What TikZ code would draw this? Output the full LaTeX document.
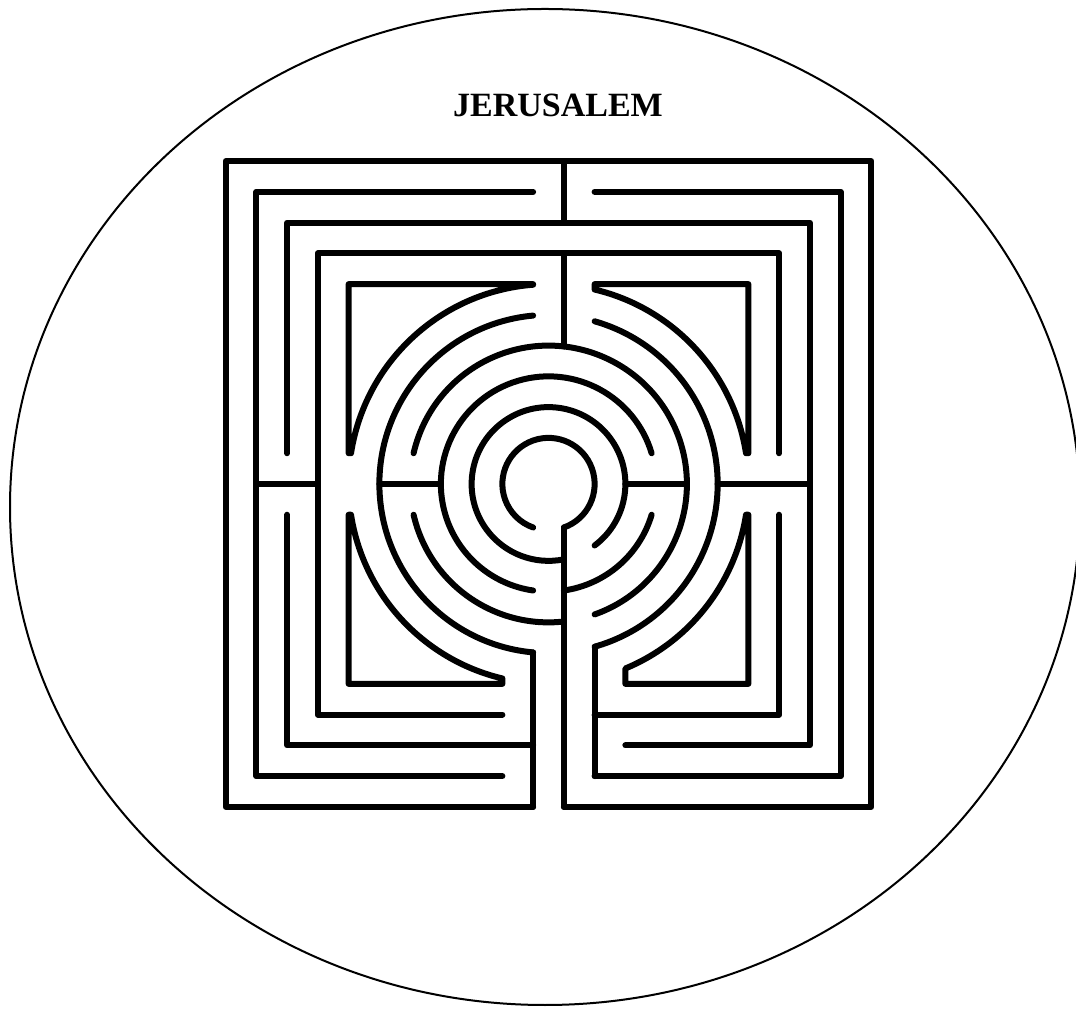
\documentclass[tikz,border=0pt]{standalone}
\usepackage{fontspec}
\setmainfont{Liberation Serif}
\begin{document}
\begin{tikzpicture}[x=1pt,y=1pt,
  wall/.style={line width=6pt, line cap=round, line join=round},
  rim/.style={line width=2pt}]
\useasboundingbox (0,0) rectangle (1076,1012);
\fill[white] (0,0) rectangle (1076,1012);
\draw[rim] (545,505) ellipse [x radius=535, y radius=498];
\node (title) at (558,907) {\bfseries\fontsize{34}{34}\selectfont JERUSALEM};
\begin{scope}[shift={(548.5,528)}, x=30.75pt, y=30.75pt, wall]
  % outer square
  \draw (-0.5,-10.5) -- (-10.5,-10.5) -- (-10.5,10.5) -- (10.5,10.5) -- (10.5,-10.5) -- (0.5,-10.5);
  \draw (0.5,10.5) -- (0.5,8.5);
  % level 9.5
  \draw (-0.5,9.5) -- (-9.5,9.5) -- (-9.5,-9.5) -- (-1.5,-9.5);
  \draw (1.5,9.5) -- (9.5,9.5) -- (9.5,-9.5) -- (1.5,-9.5);
  % level 8.5
  \draw (-8.5,1) -- (-8.5,8.5) -- (8.5,8.5) -- (8.5,-8.5) -- (2.5,-8.5);
  \draw (-8.5,-1) -- (-8.5,-8.5) -- (-0.5,-8.5);
  % level 7.5
  \draw (-1.5,-7.5) -- (-7.5,-7.5) -- (-7.5,7.5) -- (7.5,7.5) -- (7.5,1);
  \draw (7.5,-1) -- (7.5,-7.5) -- (1.5,-7.5);
  \draw (0.5,7.5) -- (0.5,4.4721);
  % verticals
  \draw (-0.5,-5.4772) -- (-0.5,-10.5);
  \draw (0.5,-1.4142) -- (0.5,-10.5);
  \draw (1.5,-5.2915) -- (1.5,-9.5);
  % bars on the horizontal axis
  \draw (-9.5,0) -- (-7.5,0);
  \draw (-5.5,0) -- (-3.5,0);
  \draw (2.5,0) -- (4.5,0);
  \draw (5.5,0) -- (8.5,0);
  % corner pieces
  \draw (-0.5,6.5) -- (-6.5,6.5) -- (-6.5,1) -- (171.15:6.5) arc[start angle=171.15, end angle=94.41, radius=6.5] -- cycle;
  \draw (1.5,6.5) -- (6.5,6.5) -- (6.5,1) -- (8.85:6.5) arc[start angle=8.85, end angle=76.66, radius=6.5] -- cycle;
  \draw (-1.5,-6.5) -- (-6.5,-6.5) -- (-6.5,-1) -- (188.85:6.5) arc[start angle=188.85, end angle=256.66, radius=6.5] -- cycle;
  \draw (2.5,-6.5) -- (6.5,-6.5) -- (6.5,-1) -- (351.15:6.5) arc[start angle=351.15, end angle=292.62, radius=6.5] -- cycle;
  % rings
  \draw (-70.53:1.5) arc[start angle=-70.53, end angle=250.53, radius=1.5];
  \draw (-53.13:2.5) arc[start angle=-53.13, end angle=281.54, radius=2.5];
  \draw (16.6:3.5) arc[start angle=16.6, end angle=261.79, radius=3.5];
  \draw (278.21:3.5) arc[start angle=278.21, end angle=343.4, radius=3.5];
  \draw (-70.53:4.5) arc[start angle=-70.53, end angle=167.16, radius=4.5];
  \draw (192.84:4.5) arc[start angle=192.84, end angle=276.38, radius=4.5];
  \draw (-74.17:5.5) arc[start angle=-74.17, end angle=74.17, radius=5.5];
  \draw (95.22:5.5) arc[start angle=95.22, end angle=264.78, radius=5.5];
\end{scope}
\end{tikzpicture}
\end{document}
